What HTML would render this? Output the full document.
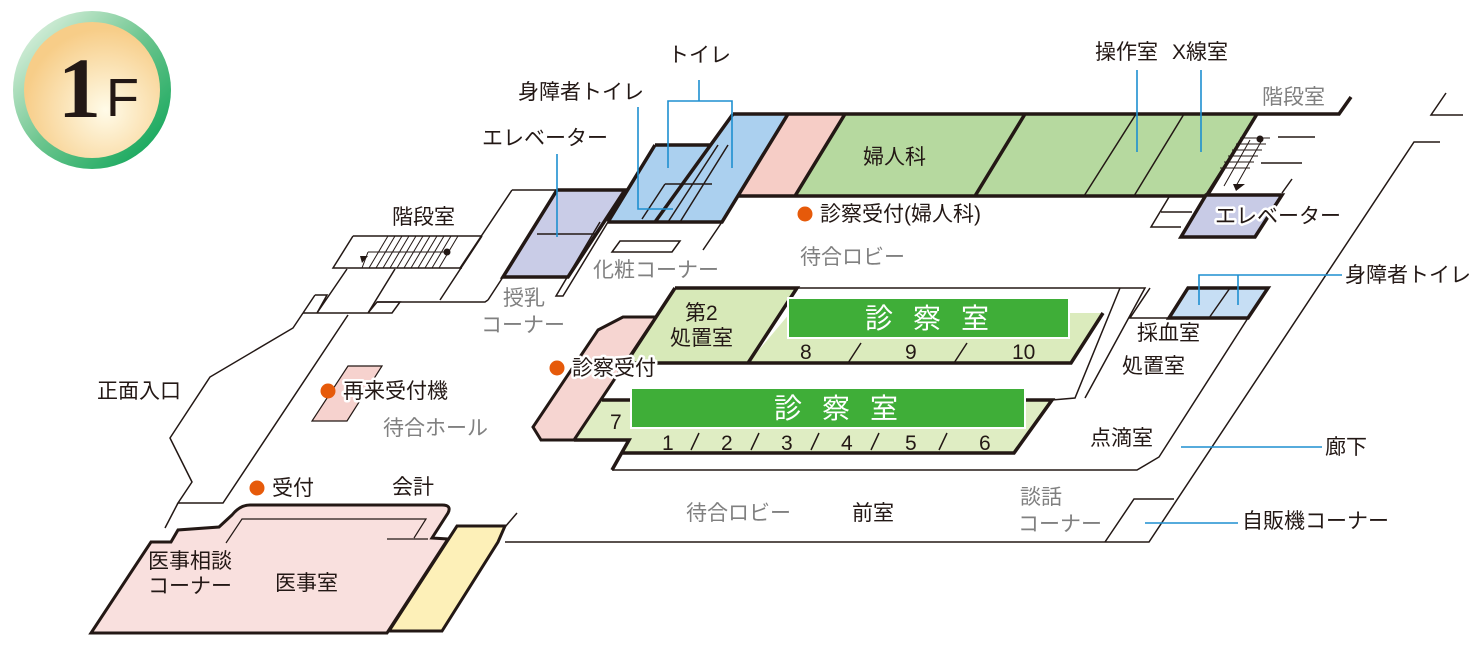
<!DOCTYPE html>
<html><head><meta charset="utf-8"><style>
html,body{margin:0;padding:0;background:#fff}
svg{display:block}
text{font-family:"Liberation Sans","Noto Sans CJK JP",sans-serif;font-size:21px;fill:#231815}
.g{fill:#808080}
.w{fill:#fff}
.halo{stroke:#fff;stroke-width:5;paint-order:stroke;stroke-linejoin:round}
.tk{stroke:#231815;stroke-width:3.5;stroke-linejoin:miter}
.tn{stroke:#231815;stroke-width:1.5;fill:none}
.bl{stroke:#1e8fd0;stroke-width:1.6;fill:none}
</style></head><body>
<svg width="1480" height="664" viewBox="0 0 1480 664" xmlns="http://www.w3.org/2000/svg">
<defs>
<linearGradient id="ring" x1="0" y1="0" x2="1" y2="1"><stop offset="0" stop-color="#f4faf0"/><stop offset="0.5" stop-color="#6cc58e"/><stop offset="1" stop-color="#00a050"/></linearGradient>
<radialGradient id="core" cx="0.6" cy="0.65" r="0.6"><stop offset="0" stop-color="#fffbe8"/><stop offset="1" stop-color="#f7cd88"/></radialGradient>
</defs>
<!-- badge -->
<circle cx="92" cy="90" r="79" fill="url(#ring)"/>
<circle cx="92" cy="90" r="68" fill="url(#core)"/>
<text x="58" y="117" style="font-family:'Liberation Serif',serif;font-size:86px;font-weight:bold">1</text>
<text x="106" y="116" style="font-size:54px">F</text>

<!-- top wing -->
<polygon points="788,114 845,114 795,196 738,196" fill="#f6cdc6"/>
<polygon points="845,114 1257,114 1207,196 795,196" fill="#b6d99f"/>
<polygon points="655,145 710,145 733,114 788,114 722,222 608,222" fill="#abd0ef"/>
<path class="tk" fill="none" d="M733,114 L1339,114 L1351,97 M738,196 L1207,196 M655,145 L710,145 M608,222 L722,222 L788,114 M733,114 L655,222 M655,145 L608,222 M845,114 L795,196 M1025,114 L975,196 M1257,114 L1207,196"/>
<path class="tn" d="M1136,114 L1084,196 M1184,114 L1134,196 M728,145 L680,222 M718,145 L668,222 M665,184 L712,184 M665,184 L642,219"/>
<!-- right stair / elevator -->
<path class="tn" d="M1278,137 L1315,137 M1261,163 L1302,163 M1292,179 L1282,193 M1257,114 L1205,196"/>
<g class="tn" style="stroke-width:1">
<path d="M1240,138 L1270,138 M1236,144 L1266,144 M1232,150 L1262,150 M1228,156 L1258,156 M1224,162 L1254,162 M1220,168 L1250,168 M1262,140 L1236,186 M1250,140 L1224,186"/>
</g>
<circle cx="1260" cy="139" r="3.5" fill="#231815"/>
<polygon points="1233,184 1245,184 1236,191" fill="#231815"/>
<path class="tn" d="M1169,197 L1151,227 L1181,227 M1161,212 L1192,212"/>
<polygon class="tk" points="1206,195 1282,195 1255,237 1181,237" fill="#c8cbe6"/>
<path class="tn" d="M1446,93 L1431,115 L1463,115 M1440,142 L1414,142 L1149,542 L505,542"/>

<!-- left elevator block -->
<polygon points="557,190 625,190 568,277 503,277" fill="#c9cce7"/>
<path class="tk" fill="none" d="M557,190 L625,190 L568,277 L503,277 L557,190"/>
<path class="tn" d="M512,190 L557,190 M537,234 L597,234 M512,190 L460,268 M488,300 L503,277 M600,222 L556,296 L563,296 L608,222 M722,222 L703,250 M377,302 L485,302 L488,300"/>
<polygon class="tn" points="620,241 680,241 672,252 612,252"/>
<!-- left stair -->
<path class="tn" d="M353,236 L482,236 M353,236 L333,268 L462,268 M482,236 L440,300"/>
<g style="stroke:#231815;stroke-width:1">
<path d="M368,252 L447,252 M362,268 L368,252"/>
<path d="M388,236 L369,268 M395,236 L376,268 M402,236 L383,268 M409,236 L390,268 M416,236 L397,268 M423,236 L404,268 M430,236 L411,268 M437,236 L418,268 M444,236 L425,268 M451,236 L432,268 M458,236 L439,268"/>
</g>
<circle cx="447" cy="252" r="3.5" fill="#231815"/>
<polygon points="360,256 368,256 362,263" fill="#231815"/>
<path class="tn" d="M347,269 L317,313 M395,269 L368,313 M303,313 L392,313 L400,302 L377,302 L368,313 M315,295 L327,295 L317,313 M303,313 L315,295"/>
<!-- left building outline -->
<path class="tn" d="M303,313 L293,328 L210,377 L170,438 L192,482 L178,503 L223,503 L348,315 M178,503 L165,528"/>
<polygon points="348,366 382,366 347,421 312,421" fill="#f6d2ce" stroke="#231815" stroke-width="1.2"/>

<!-- medical office -->
<path d="M91,633 L387,633 L448,539 L432,538 L448,513 Q452,505 442,505 L250,505 Q240,505 232,515 L219,527 L178,530 L171,542 L151,542 Z" fill="#f9e0de" stroke="#231815" stroke-width="3"/>
<path class="tn" style="stroke-width:1.2" d="M226,543 L242,519 L426,519 L414,538 M387,539 L428,539"/>
<polygon points="457,526 505,526 498,542 442,631 389,631" fill="#fdf0b8" stroke="#231815" stroke-width="3"/>
<path class="tn" d="M505,527 L517,513"/>

<!-- exam block -->
<path class="tn" d="M797,288 L1145,288 L1085,398 M612,470 L1137,470 L1159,457 L1248,318 M1145,288 L1120,288 M1150,288 L1130,318 L1169,318 M1120,288 L1075,398 L1052,400"/>
<polygon points="675,288 797,288 748,363 626,363" fill="#d7e9b8"/>
<polygon points="790,313 1103,313 1071,363 748,363" fill="#dbebbd"/>
<path class="tk" fill="none" d="M675,288 L797,288 L748,363 L1071,363 L1103,313 M675,288 L626,363 L748,363"/>
<polygon points="602,400 1052,400 1014,453 621,453 629,440 574,440" fill="#dfedc3"/>
<path class="tk" fill="none" d="M602,400 L1052,400 L1014,453 L621,453 M574,440 L629,440 L612,470"/>
<polygon points="598,330 623,317 656,317 574,440 541,440 533,427" fill="#f6d5d1" stroke="#231815" stroke-width="3"/>
<path class="tn" d="M861,343 L848,363 M967,343 L954,363 M699,433 L691,450 M759,433 L751,450 M819,433 L811,450 M879,433 L871,450 M947,433 L939,450"/>
<rect x="788" y="298" width="281" height="40" fill="#3fae38" stroke="#fff" stroke-width="2"/>
<rect x="631" y="388" width="394" height="40" fill="#3fae38" stroke="#fff" stroke-width="2"/>
<text class="w" x="937" y="328" text-anchor="middle" style="font-size:28px;letter-spacing:20px">診察室</text>
<text class="w" x="846" y="418" text-anchor="middle" style="font-size:28px;letter-spacing:20px">診察室</text>
<text x="800" y="359">8</text><text x="905" y="359">9</text><text x="1012" y="359">10</text>
<text x="610" y="429">7</text>
<text x="662" y="450">1</text><text x="721" y="450">2</text><text x="781" y="450">3</text><text x="841" y="450">4</text><text x="905" y="450">5</text><text x="979" y="450">6</text>

<!-- right small rooms -->
<polygon points="1188,288 1268,288 1248,318 1169,318" fill="#c6def4"/>
<path class="tk" fill="none" d="M1188,288 L1268,288 L1248,318 L1169,318 Z"/>
<path class="tn" d="M1230,288 L1209,318 M1105,542 L1134,499 L1174,499"/>

<!-- leaders -->
<path class="bl" d="M668,168 L668,101 L732,101 L732,168 M699,80 L699,101 M638,107 L638,209 L673,209 M557,154 L557,237 M1137,70 L1137,152 M1201,70 L1201,152 M1199,305 L1199,275 L1342,275 M1238,275 L1238,305 M1181,447 L1322,447 M1145,523 L1238,523"/>

<!-- dots -->
<circle cx="805" cy="214" r="7.5" fill="#e65a0a"/>
<circle cx="557" cy="368" r="7.5" fill="#e65a0a"/>
<circle cx="328" cy="391" r="7.5" fill="#e65a0a"/>
<circle cx="257" cy="488" r="7.5" fill="#e65a0a"/>

<!-- labels -->
<text x="668" y="62">トイレ</text>
<text x="518" y="99">身障者トイレ</text>
<text x="482" y="145">エレベーター</text>
<text x="392" y="224">階段室</text>
<text class="g" x="503" y="305">授乳</text>
<text class="g" x="481" y="332">コーナー</text>
<text class="g" x="593" y="277">化粧コーナー</text>
<text x="863" y="164">婦人科</text>
<text x="820" y="221">診察受付(婦人科)</text>
<text class="g" x="800" y="264">待合ロビー</text>
<text x="1095" y="59">操作室</text><text x="1172" y="59">X線室</text>
<text class="g" x="1262" y="104">階段室</text>
<text class="halo" x="1215" y="223">エレベーター</text>
<text x="1345" y="282">身障者トイレ</text>
<text x="1137" y="340">採血室</text>
<text x="1122" y="373">処置室</text>
<text x="1090" y="445">点滴室</text>
<text x="1325" y="454">廊下</text>
<text class="g" x="1020" y="504">談話</text>
<text class="g" x="1018" y="531">コーナー</text>
<text x="1242" y="528">自販機コーナー</text>
<text x="685" y="320">第2</text>
<text x="670" y="345">処置室</text>
<text class="halo" x="572" y="375">診察受付</text>
<text class="halo" x="343" y="398">再来受付機</text>
<text class="g" x="383" y="435">待合ホール</text>
<text x="97" y="398">正面入口</text>
<text x="272" y="495">受付</text>
<text x="392" y="494">会計</text>
<text class="g" x="686" y="520">待合ロビー</text>
<text x="852" y="520">前室</text>
<text x="148" y="568">医事相談</text>
<text x="148" y="593">コーナー</text>
<text x="275" y="590">医事室</text>
</svg>
</body></html>
